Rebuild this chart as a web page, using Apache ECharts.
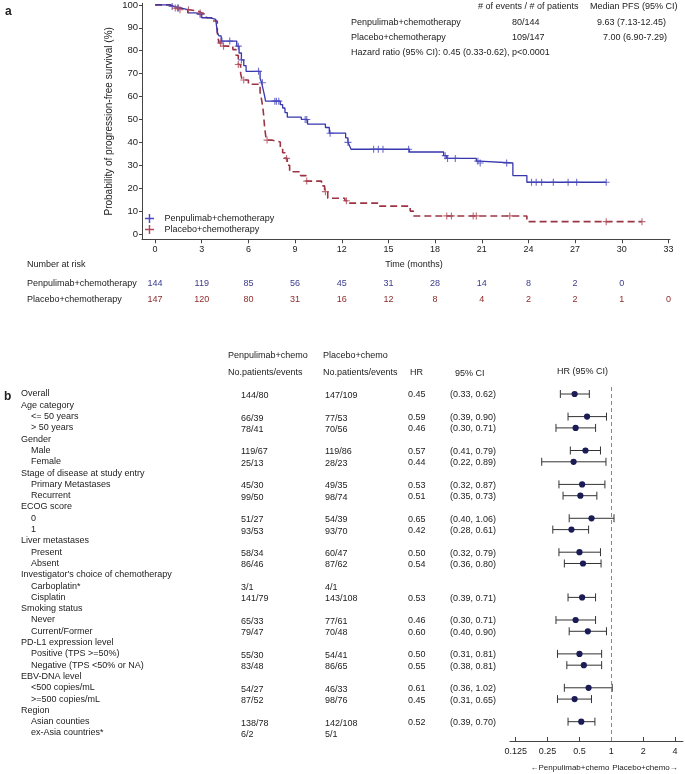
<!DOCTYPE html>
<html>
<head>
<meta charset="utf-8">
<script src="https://cdn.jsdelivr.net/npm/echarts@6/dist/echarts.min.js"></script>
<style>
  html, body { margin: 0; padding: 0; background: #fff; }
  #main { width: 685px; height: 774px; }
</style>
</head>
<body>
<div id="main"></div>
<script>
// ---------- panel a : Kaplan-Meier ----------
var penTime = [0, 0.9, 1.3, 1.7, 2.1, 2.6, 3.0, 3.5, 3.9, 4.0, 4.1, 4.25, 5.25, 5.4, 5.55, 5.7, 5.85,
  6.75, 6.85, 6.95, 7.05, 7.1, 8.05, 8.2, 8.35, 8.5, 9.4, 9.8, 10.95, 11.2, 12.25, 12.4, 12.5, 12.6,
  16.35, 18.55, 18.75, 20.65, 20.85, 23.0, 23.9, 29.0];
var penSurv = [100, 99.3, 98.6, 97.9, 96.5, 95.8, 94.4, 93.7, 93.0, 88.0, 86.5, 84.2, 82.0, 79.0, 76.0, 73.5, 71.0,
  68.0, 66.0, 63.0, 60.0, 58.0, 56.5, 55.0, 53.0, 51.0, 50.0, 48.0, 46.5, 44.0, 42.0, 40.0, 38.5, 37.0,
  35.8, 34.2, 33.0, 31.8, 31.0, 25.5, 22.6, 22.6];
var penCensor = [1.1, 1.5, 2.9, 4.3, 4.8, 5.35, 5.55, 6.65, 6.9, 7.7, 7.8, 7.95, 9.65, 9.75, 11.25, 12.4,
  14.05, 14.35, 14.65, 16.3, 18.65, 18.8, 19.3, 20.75, 20.9, 22.6, 24.2, 24.5, 24.85, 25.6, 26.55, 27.1, 29.0];

var plaTime = [0, 1.0, 1.2, 1.5, 2.2, 2.8, 3.0, 3.3, 3.7, 4.0, 4.1, 4.4, 5.0, 5.2, 5.35, 5.5, 5.6, 6.0,
  6.75, 6.85, 6.95, 7.0, 7.05, 7.15, 7.5, 8.05, 8.2, 8.35, 8.5, 8.65, 9.35, 9.7, 10.7, 10.9, 11.1,
  12.2, 12.4, 14.35, 16.4, 16.6, 23.9, 31.3];
var plaSurv = [100, 99.3, 98.6, 97.9, 97.2, 96.5, 95.8, 94.4, 93.0, 88.0, 83.4, 82.0, 80.5, 78.0, 74.0, 70.0, 67.2, 65.4,
  62.0, 58.5, 54.0, 50.0, 46.0, 41.0, 40.2, 38.0, 35.5, 33.0, 30.0, 27.2, 25.5, 23.1, 21.0, 18.5, 15.6,
  14.5, 13.5, 12.2, 10.0, 7.9, 5.4, 5.4];
var plaCensor = [1.3, 1.45, 1.6, 2.15, 2.9, 4.2, 4.4, 5.35, 5.7, 7.2, 8.45, 9.75, 10.95, 12.3,
  18.75, 19.05, 20.45, 20.65, 22.8, 29.0, 31.3];

var timeTicks = [0, 3, 6, 9, 12, 15, 18, 21, 24, 27, 30, 33];
var survTicks = [0, 10, 20, 30, 40, 50, 60, 70, 80, 90, 100];
var penRisk = [144, 119, 85, 56, 45, 31, 28, 14, 8, 2, 0];
var plaRisk = [147, 120, 80, 31, 16, 12, 8, 4, 2, 2, 1, 0];

// ---------- panel b : forest plot ----------
var rowLabels = ['Overall', 'Age category', '<= 50 years', '> 50 years', 'Gender', 'Male', 'Female',
  'Stage of disease at study entry', 'Primary Metastases', 'Recurrent', 'ECOG score', '0', '1',
  'Liver metastases', 'Present', 'Absent', "Investigator's choice of chemotherapy", 'Carboplatin*', 'Cisplatin',
  'Smoking status', 'Never', 'Current/Former', 'PD-L1 expression level', 'Positive (TPS >=50%)',
  'Negative (TPS <50% or NA)', 'EBV-DNA level', '<500 copies/mL', '>=500 copies/mL', 'Region',
  'Asian counties', 'ex-Asia countries*'];
var rowIsSub = [0, 0, 1, 1, 0, 1, 1, 0, 1, 1, 0, 1, 1, 0, 1, 1, 0, 1, 1, 0, 1, 1, 0, 1, 1, 0, 1, 1, 0, 1, 1];
var penN = ['144/80', '', '66/39', '78/41', '', '119/67', '25/13', '', '45/30', '99/50', '', '51/27', '93/53',
  '', '58/34', '86/46', '', '3/1', '141/79', '', '65/33', '79/47', '', '55/30', '83/48', '', '54/27', '87/52',
  '', '138/78', '6/2'];
var plaN = ['147/109', '', '77/53', '70/56', '', '119/86', '28/23', '', '49/35', '98/74', '', '54/39', '93/70',
  '', '60/47', '87/62', '', '4/1', '143/108', '', '77/61', '70/48', '', '54/41', '86/65', '', '46/33', '98/76',
  '', '142/108', '5/1'];
var hrRow = [0, 2, 3, 5, 6, 8, 9, 11, 12, 14, 15, 18, 20, 21, 23, 24, 26, 27, 29];
var hrVal = [0.45, 0.59, 0.46, 0.57, 0.44, 0.53, 0.51, 0.65, 0.42, 0.50, 0.54, 0.53, 0.46, 0.60, 0.50, 0.55, 0.61, 0.45, 0.52];
var ciLow = [0.33, 0.39, 0.30, 0.41, 0.22, 0.32, 0.35, 0.40, 0.28, 0.32, 0.36, 0.39, 0.30, 0.40, 0.31, 0.38, 0.36, 0.31, 0.39];
var ciHigh = [0.62, 0.90, 0.71, 0.79, 0.89, 0.87, 0.73, 1.06, 0.61, 0.79, 0.80, 0.71, 0.71, 0.90, 0.81, 0.81, 1.02, 0.65, 0.70];
var hrTicks = [0.125, 0.25, 0.5, 1, 2, 4];

// ---------- helpers ----------
var BLUE = '#3636ad', RED = '#9c3443';
var FONT = '"Liberation Sans", Arial, sans-serif';
var plusIcon = 'path://M4.2,0H5.8V4.2H10V5.8H5.8V10H4.2V5.8H0V4.2H4.2Z';

function stepData(t, s) {
  return t.map(function (x, i) { return [x, s[i]]; });
}
function survAt(t, s, x) {
  var v = s[0];
  for (var i = 0; i < t.length; i++) { if (t[i] <= x) v = s[i]; }
  return v;
}
function censorData(t, s, c) {
  return c.map(function (x) { return [x, survAt(t, s, x)]; });
}
var hrTickLog = hrTicks.map(Math.log2);
var forestData = hrRow.map(function (r, i) {
  return [Math.log2(ciLow[i]), Math.log2(ciHigh[i]), Math.log2(hrVal[i]), r];
});
function riskAxis(offset, counts, color) {
  return {
    gridIndex: 0, type: 'value', min: -0.84, max: 33.1, position: 'bottom', offset: offset,
    axisLine: { show: false, onZero: false }, axisTick: { show: false }, splitLine: { show: false },
    axisLabel: {
      customValues: timeTicks, margin: 6, fontSize: 9, color: color,
      formatter: function (v) {
        var c = counts[timeTicks.indexOf(Math.round(v))];
        return c === undefined ? '' : String(c);
      }
    }
  };
}

var chart = echarts.init(document.getElementById('main'));
var axisCol = '#444';

chart.setOption({
  animation: false,
  textStyle: { fontFamily: FONT },
  grid: [
    { left: 142, top: 3.3, width: 528, height: 236, outerBoundsMode: 'none' },
    { left: 510, top: 387, width: 173, height: 354, outerBoundsMode: 'none' }
  ],
  legend: {
    orient: 'vertical', left: 140, top: 209, itemGap: 2, itemWidth: 20, itemHeight: 9,
    textStyle: { fontSize: 9, color: '#222' },
    data: [
      { name: 'Penpulimab+chemotherapy', icon: plusIcon, itemStyle: { color: '#4a4ac0' } },
      { name: 'Placebo+chemotherapy', icon: plusIcon, itemStyle: { color: '#b04a58' } }
    ]
  },
  xAxis: [
    {
      gridIndex: 0, type: 'value', min: -0.84, max: 33.1, position: 'bottom',
      name: 'Time (months)', nameLocation: 'middle', nameGap: 21,
      nameTextStyle: { fontSize: 9, color: '#222', padding: [0, 0, 0, 16] },
      axisLine: { onZero: false, lineStyle: { color: axisCol } },
      axisTick: { customValues: timeTicks, length: 4, lineStyle: { color: axisCol } },
      axisLabel: { customValues: timeTicks, fontSize: 9, color: '#222', margin: 6 },
      splitLine: { show: false }
    },
    riskAxis(34, penRisk, '#3b3b8c'),
    riskAxis(50, plaRisk, '#8e2a2a'),
    {
      gridIndex: 1, type: 'value', min: -3.18, max: 2.25, position: 'bottom',
      axisLine: { onZero: false, lineStyle: { color: axisCol } },
      axisTick: { customValues: hrTickLog, inside: true, length: 4, lineStyle: { color: axisCol } },
      axisLabel: {
        customValues: hrTickLog, fontSize: 9, color: '#222', margin: 6,
        formatter: function (v) {
          var i = hrTickLog.indexOf(Math.round(v));
          return i < 0 ? '' : String(hrTicks[i]);
        }
      },
      splitLine: { show: false }
    }
  ],
  yAxis: [
    {
      gridIndex: 0, type: 'value', min: -2.3, max: 100.7, position: 'left',
      name: 'Probability of progression-free survival (%)', nameLocation: 'middle', nameGap: 28,
      nameRotate: 90, nameMoveOverlap: false,
      nameTextStyle: { fontSize: 10, color: '#222' },
      axisLine: { show: true, onZero: false, lineStyle: { color: axisCol } },
      axisTick: { show: true, customValues: survTicks, length: 3, lineStyle: { color: axisCol } },
      axisLabel: { customValues: survTicks, fontSize: 9.5, color: '#222', margin: 4 },
      splitLine: { show: false }
    },
    { gridIndex: 1, type: 'value', min: -0.62, max: 30.71, inverse: true, show: false }
  ],
  series: [
    {
      name: 'Penpulimab+chemotherapy', type: 'line', step: 'end', xAxisIndex: 0, yAxisIndex: 0,
      data: stepData(penTime, penSurv), symbol: 'none',
      lineStyle: { color: BLUE, width: 1.3 }, z: 3
    },
    {
      name: 'Placebo+chemotherapy', type: 'line', step: 'end', xAxisIndex: 0, yAxisIndex: 0,
      data: stepData(plaTime, plaSurv), symbol: 'none',
      lineStyle: { color: RED, width: 1.6, type: [7, 4] }, z: 2
    },
    {
      name: 'Penpulimab+chemotherapy', type: 'scatter', xAxisIndex: 0, yAxisIndex: 0,
      data: censorData(penTime, penSurv, penCensor), symbol: plusIcon, symbolSize: 7,
      itemStyle: { color: '#4a4ac0' }, z: 4
    },
    {
      name: 'Placebo+chemotherapy', type: 'scatter', xAxisIndex: 0, yAxisIndex: 0,
      data: censorData(plaTime, plaSurv, plaCensor), symbol: plusIcon, symbolSize: 7,
      itemStyle: { color: '#b04a58' }, z: 4
    },
    {
      type: 'custom', xAxisIndex: 3, yAxisIndex: 1, data: forestData,
      encode: { x: [0, 1, 2], y: 3 },
      renderItem: function (params, api) {
        var lo = api.coord([api.value(0), api.value(3)]);
        var hi = api.coord([api.value(1), api.value(3)]);
        var mid = api.coord([api.value(2), api.value(3)]);
        var st = { stroke: '#333', lineWidth: 1 };
        return {
          type: 'group', children: [
            { type: 'line', shape: { x1: lo[0], y1: lo[1], x2: hi[0], y2: hi[1] }, style: st },
            { type: 'line', shape: { x1: lo[0], y1: lo[1] - 4, x2: lo[0], y2: lo[1] + 4 }, style: st },
            { type: 'line', shape: { x1: hi[0], y1: hi[1] - 4, x2: hi[0], y2: hi[1] + 4 }, style: st },
            { type: 'circle', shape: { cx: mid[0], cy: mid[1], r: 3.1 }, style: { fill: '#1b1b55' } }
          ]
        };
      },
      markLine: {
        silent: true, symbol: 'none', label: { show: false },
        lineStyle: { color: '#888', type: [4, 3], width: 1 },
        data: [{ xAxis: 0 }]
      }
    }
  ]
});

// ---------- text: annotations and forest table ----------
function txt(s, x, y, opt) {
  opt = opt || {};
  return {
    type: 'text', silent: true,
    style: {
      text: s, x: x, y: y, fill: opt.fill || '#222', align: opt.align || 'left', verticalAlign: 'middle',
      font: (opt.bold ? 'bold ' : '') + (opt.size || 9) + 'px ' + FONT
    }
  };
}
var g = [
  txt('a', 5, 12, { bold: true, size: 12 }),
  txt('# of events / # of patients', 478, 7),
  txt('Median PFS (95% CI)', 590, 7),
  txt('Penpulimab+chemotherapy', 351, 23),
  txt('80/144', 512, 23),
  txt('9.63 (7.13-12.45)', 597, 23),
  txt('Placebo+chemotherapy', 351, 38),
  txt('109/147', 512, 38),
  txt('7.00 (6.90-7.29)', 603, 38),
  txt('Hazard ratio (95% CI): 0.45 (0.33-0.62), p<0.0001', 351, 53),
  txt('Number at risk', 27, 265),
  txt('Penpulimab+chemotherapy', 27, 284),
  txt('Placebo+chemotherapy', 27, 300),

  txt('b', 4, 397, { bold: true, size: 12 }),
  txt('Penpulimab+chemo', 228, 356),
  txt('Placebo+chemo', 323, 356),
  txt('No.patients/events', 228, 373),
  txt('No.patients/events', 323, 373),
  txt('HR', 410, 373),
  txt('95% CI', 455, 374),
  txt('HR (95% CI)', 557, 372),
  txt('\u2190Penpulimab+chemo', 570, 768, { align: 'center', size: 8 }),
  txt('Placebo+chemo\u2192', 645, 768, { align: 'center', size: 8 })
];
rowLabels.forEach(function (lab, i) {
  var y = chart.convertToPixel({ yAxisIndex: 1 }, i);
  g.push(txt(lab, rowIsSub[i] ? 31 : 21, y));
  if (penN[i]) g.push(txt(penN[i], 241, y + 1.5));
  if (plaN[i]) g.push(txt(plaN[i], 325, y + 1.5));
});
hrRow.forEach(function (r, i) {
  var y = chart.convertToPixel({ yAxisIndex: 1 }, r) + 1;
  g.push(txt(hrVal[i].toFixed(2), 408, y));
  g.push(txt('(' + ciLow[i].toFixed(2) + ', ' + ciHigh[i].toFixed(2) + ')', 450, y));
});
chart.setOption({ graphic: g });
</script>
</body>
</html>
